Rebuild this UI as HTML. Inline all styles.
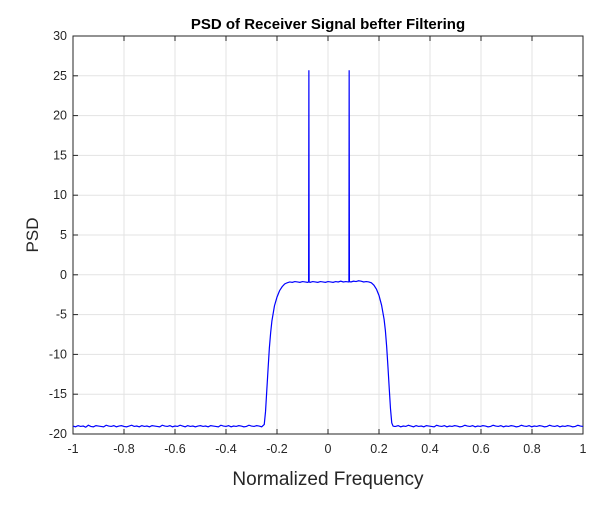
<!DOCTYPE html>
<html><head><meta charset="utf-8"><style>
body{margin:0;background:#fff;}
svg text{font-family:"Liberation Sans",Arial,sans-serif;}
</style></head><body>
<svg id="chart" width="606" height="501" xmlns="http://www.w3.org/2000/svg">
<rect width="606" height="501" fill="#fff"/>
<g id="grid"></g>
<g id="axes"></g>
<g id="series"></g>
<text x="328" y="29" text-anchor="middle" font-size="15" font-weight="bold">PSD of Receiver Signal befter Filtering</text>
<text x="328" y="485" text-anchor="middle" font-size="19" fill="#262626">Normalized Frequency</text>
<text x="0" y="0" transform="translate(38,235) rotate(-90)" text-anchor="middle" font-size="17" fill="#262626">PSD</text>
</svg>
<script>
const xTicks=[-1,-0.8,-0.6,-0.4,-0.2,0,0.2,0.4,0.6,0.8,1];
const xTickLabels=["-1","-0.8","-0.6","-0.4","-0.2","0","0.2","0.4","0.6","0.8","1"];
const yTicks=[-20,-15,-10,-5,0,5,10,15,20,25,30];
const yTickLabels=["-20","-15","-10","-5","0","5","10","15","20","25","30"];
const floorLeft=[-19.0,-19.1,-18.95,-19.05,-19.0,-19.15,-18.9,-19.05,-19.1,-18.95,-19.0,-19.05,-19.1,-18.9,-19.0,-19.05,-18.95,-19.1,-19.0,-18.95,-19.05,-19.1,-19.0,-18.9,-19.05,-19.0,-19.1,-18.95,-19.05,-19.0,-19.1,-18.95,-19.0,-19.05,-19.1,-18.9,-19.0,-19.05,-18.95,-19.1,-19.0,-19.05,-18.9,-19.0,-19.1,-18.95,-19.05,-19.0,-19.1,-19.0,-18.95,-19.05,-19.0,-19.1,-18.95,-19.0,-19.05,-19.1,-18.9,-19.0,-19.05,-18.95,-19.1,-19.0,-19.05,-18.95,-19.0,-19.1,-19.05,-18.9,-19.0,-19.05,-18.95,-19.0,-19.1];
const floorRight=[-19.05,-18.95,-19.1,-19.0,-19.05,-18.9,-19.0,-19.1,-18.95,-19.05,-19.0,-19.1,-18.95,-19.0,-19.05,-19.1,-18.9,-19.0,-19.05,-18.95,-19.1,-19.0,-19.05,-18.95,-19.0,-19.1,-19.05,-18.9,-19.0,-19.05,-18.95,-19.1,-19.0,-19.05,-18.95,-19.0,-19.1,-19.05,-18.9,-19.0,-19.05,-18.95,-19.1,-19.0,-19.05,-18.95,-19.0,-19.1,-19.05,-18.9,-19.0,-19.05,-18.95,-19.1,-19.0,-19.05,-18.95,-19.0,-19.1,-19.05,-18.9,-19.0,-19.05,-18.95,-19.1,-19.0,-19.05,-18.95,-19.0,-19.1,-19.05,-18.9,-19.0,-19.05];
const bandFreq=[-0.25,-0.245,-0.24,-0.235,-0.23,-0.225,-0.22,-0.21,-0.2,-0.19,-0.18,-0.17,-0.16,-0.15,-0.14,-0.13,-0.12,-0.11,-0.1,-0.09,-0.08,-0.076,-0.075,-0.074,-0.07,-0.06,-0.05,-0.04,-0.03,-0.02,-0.01,0,0.01,0.02,0.03,0.04,0.05,0.06,0.07,0.08,0.082,0.083,0.084,0.09,0.1,0.11,0.12,0.13,0.14,0.15,0.16,0.17,0.18,0.19,0.2,0.21,0.22,0.225,0.23,0.235,0.24,0.245,0.25,0.255,0.26];
const bandPsd=[-18.8,-17.2,-14.5,-11.8,-9.2,-7.3,-5.8,-3.9,-2.8,-2.0,-1.5,-1.15,-1.0,-0.9,-0.95,-0.85,-0.9,-0.95,-0.85,-0.9,-0.95,-0.9,25.7,-0.9,-0.95,-0.85,-0.9,-0.95,-0.85,-0.9,-0.95,-0.85,-0.9,-0.95,-0.85,-0.9,-0.8,-0.9,-0.85,-0.9,-0.9,25.7,-0.85,-0.9,-0.8,-0.85,-0.75,-0.8,-0.9,-0.85,-0.9,-1.0,-1.3,-1.8,-2.6,-3.8,-5.6,-7.0,-9.0,-11.5,-14.2,-16.8,-18.6,-19.0,-19.05];
const X0=73,X1=583,Y0=434,Y1=36;
function sx(v){return X0+(v+1)/2*(X1-X0);}
function sy(v){return Y0-(v+20)/50*(Y0-Y1);}
const NS="http://www.w3.org/2000/svg";
function mk(tag,attrs,parent){const e=document.createElementNS(NS,tag);for(const k in attrs)e.setAttribute(k,attrs[k]);parent.appendChild(e);return e;}
const grid=document.getElementById('grid'),axes=document.getElementById('axes'),series=document.getElementById('series');
xTicks.forEach((t,i)=>{
  const g=mk('line',{x1:sx(t),x2:sx(t),y1:Y1,y2:Y0,stroke:'#e3e3e3','stroke-width':1},grid);
  
  
  mk('line',{x1:sx(t),x2:sx(t),y1:Y0,y2:Y0-5,stroke:'#262626'},axes);
  mk('line',{x1:sx(t),x2:sx(t),y1:Y1,y2:Y1+5,stroke:'#262626'},axes);
  const tx=mk('text',{x:sx(t),y:Y0+19,'text-anchor':'middle','font-size':12.5,fill:'#262626'},axes);
  tx.textContent=xTickLabels[i];
  
  
});
yTicks.forEach((t,i)=>{
  const g=mk('line',{x1:X0,x2:X1,y1:sy(t),y2:sy(t),stroke:'#e3e3e3','stroke-width':1},grid);
  
  
  mk('line',{x1:X0,x2:X0+5,y1:sy(t),y2:sy(t),stroke:'#262626'},axes);
  mk('line',{x1:X1,x2:X1-5,y1:sy(t),y2:sy(t),stroke:'#262626'},axes);
  const tx=mk('text',{x:X0-6,y:sy(t)+4,'text-anchor':'end','font-size':12.5,fill:'#262626'},axes);
  tx.textContent=yTickLabels[i];
  
  
});
const box=mk('rect',{x:X0,y:Y1,width:X1-X0,height:Y0-Y1,fill:'none',stroke:'#262626','stroke-width':1},axes);


const pts=[];
floorLeft.forEach((v,i)=>pts.push([-1+i*(0.74/(floorLeft.length-1)),v]));
bandFreq.forEach((f,i)=>pts.push([f,bandPsd[i]]));
floorRight.forEach((v,i)=>pts.push([0.265+i*(0.735/(floorRight.length-1)),v]));
const d=pts.map((p,i)=>(i?'L':'M')+sx(p[0]).toFixed(2)+','+sy(p[1]).toFixed(2)).join(' ');
const line=mk('path',{d:d,fill:'none',stroke:'#0000ff','stroke-width':1.2},series);


</script>
</body></html>
